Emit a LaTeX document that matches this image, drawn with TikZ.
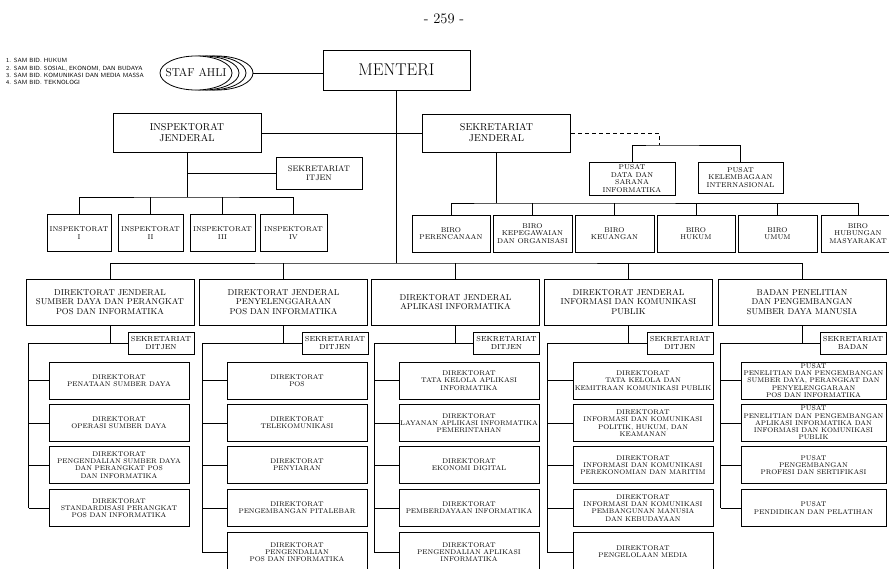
\documentclass[tikz,border=0pt]{standalone}
\usepackage{fontspec}
\usetikzlibrary{shapes.geometric}

\begin{document}
\begin{tikzpicture}[
  x=1pt, y=-1pt,
  box/.style={draw, line width=1pt, fill=white, align=center, inner sep=1pt},
  head/.style={box, font=\fontsize{10}{11}\selectfont, minimum width=148, minimum height=39},
  dj/.style={box, font=\fontsize{8.5}{9.8}\selectfont, minimum width=168, minimum height=46},
  cell/.style={box, font=\fontsize{7}{7.5}\selectfont, minimum height=37},
  sek/.style={box, font=\fontsize{7.3}{8}\selectfont, minimum width=66, minimum height=22},
  unit/.style={box, font=\fontsize{6.8}{7.2}\selectfont, minimum width=140, minimum height=37, inner sep=0.5pt},
  oval/.style={ellipse, draw, line width=0.8pt, fill=white, inner xsep=-8pt, inner ysep=0pt, minimum width=72, minimum height=34},
  wire/.style={line width=0.8pt},
  trunk/.style={line width=1.4pt},
]
  \useasboundingbox (0,0) rectangle (889,568);
  \clip (0,0) rectangle (889,568);

  % ---------------- top: page number, staf ahli, menteri
  \node[font=\fontsize{14.5}{16}\selectfont] (page) at (444,18.7) {- 259 -};
  \node[font=\sffamily\fontsize{6}{7.1}\selectfont, align=left, anchor=west, inner sep=0] (sam) at (6,71.5)
    {1. SAM BID. HUKUM\\2. SAM BID. SOSIAL, EKONOMI, DAN BUDAYA\\3. SAM BID. KOMUNIKASI DAN MEDIA MASSA\\4. SAM BID. TEKNOLOGI};
  \foreach \i/\dx in {3/21, 2/14, 1/7}
    \node[oval] (staf\i) at (196+\dx,73) {};
  \node[oval, font=\fontsize{11.5}{12}\selectfont] (staf) at (196,73) {STAF AHLI};
  \node[box, font=\fontsize{17}{18}\selectfont, minimum width=147, minimum height=40] (menteri) at (396.5,70) {MENTERI};

  % ---------------- inspektorat / sekretariat jenderal
  \node[head] (itjen) at (187,133) {INSPEKTORAT\\JENDERAL};
  \node[head, minimum height=38] (sekjen) at (496.5,133) {SEKRETARIAT\\JENDERAL};
  \node[box, font=\fontsize{8}{9}\selectfont, minimum width=86, minimum height=32] (sekitjen) at (319,173) {SEKRETARIAT\\ITJEN};
  \node[cell, minimum width=64] (insp1) at (79,233) {INSPEKTORAT\\I};
  \node[cell, minimum width=65] (insp2) at (150.5,233) {INSPEKTORAT\\II};
  \node[cell, minimum width=65] (insp3) at (222.5,233) {INSPEKTORAT\\III};
  \node[cell, minimum width=67] (insp4) at (293.5,233) {INSPEKTORAT\\IV};
  \node[cell, minimum width=86, minimum height=33] (pusdatin) at (632,178.5) {PUSAT\\DATA DAN\\SARANA\\INFORMATIKA};
  \node[cell, minimum width=85, minimum height=31] (puskel) at (740.5,177.5) {PUSAT\\KELEMBAGAAN\\INTERNASIONAL};
  \node[cell, minimum width=78] (biro1) at (451,233.5) {BIRO\\PERENCANAAN};
  \node[cell, minimum width=79] (biro2) at (532.5,233.5) {BIRO\\KEPEGAWAIAN\\DAN ORGANISASI};
  \node[cell, minimum width=79] (biro3) at (614.5,233.5) {BIRO\\KEUANGAN};
  \node[cell, minimum width=78] (biro4) at (696,233.5) {BIRO\\HUKUM};
  \node[cell, minimum width=79] (biro5) at (777.5,233.5) {BIRO\\UMUM};
  \node[cell, minimum width=74] (biro6) at (858,233.5) {BIRO\\HUBUNGAN\\MASYARAKAT};

  % ---------------- direktorat jenderal and badan
  \node[dj] (dj1) at (110,302) {DIREKTORAT JENDERAL\\SUMBER DAYA DAN PERANGKAT\\POS DAN INFORMATIKA};
  \node[dj] (dj2) at (283.5,302) {DIREKTORAT JENDERAL\\PENYELENGGARAAN\\POS DAN INFORMATIKA};
  \node[dj] (dj3) at (455.5,302) {DIREKTORAT JENDERAL\\APLIKASI INFORMATIKA};
  \node[dj] (dj4) at (628.5,302) {DIREKTORAT JENDERAL\\INFORMASI DAN KOMUNIKASI\\PUBLIK};
  \node[dj] (dj5) at (802,302) {BADAN PENELITIAN\\DAN PENGEMBANGAN\\SUMBER DAYA MANUSIA};
  \node[sek] (sek1) at (161,343) {SEKRETARIAT\\DITJEN};
  \node[sek] (sek2) at (335,343) {SEKRETARIAT\\DITJEN};
  \node[sek] (sek3) at (506.5,343) {SEKRETARIAT\\DITJEN};
  \node[sek] (sek4) at (680,343) {SEKRETARIAT\\DITJEN};
  \node[sek] (sek5) at (853,343) {SEKRETARIAT\\BADAN};

  \node[unit] (u11) at (119,380.5) {DIREKTORAT\\PENATAAN SUMBER DAYA};
  \node[unit] (u12) at (119,423) {DIREKTORAT\\OPERASI SUMBER DAYA};
  \node[unit] (u13) at (119,465) {DIREKTORAT\\PENGENDALIAN SUMBER DAYA\\DAN PERANGKAT POS\\DAN INFORMATIKA};
  \node[unit] (u14) at (119,508) {DIREKTORAT\\STANDARDISASI PERANGKAT\\POS DAN INFORMATIKA};

  \node[unit] (u21) at (297,380.5) {DIREKTORAT\\POS};
  \node[unit] (u22) at (297,423) {DIREKTORAT\\TELEKOMUNIKASI};
  \node[unit] (u23) at (297,465) {DIREKTORAT\\PENYIARAN};
  \node[unit] (u24) at (297,508) {DIREKTORAT\\PENGEMBANGAN PITALEBAR};
  \node[unit, minimum height=40] (u25) at (297,552) {DIREKTORAT\\PENGENDALIAN\\POS DAN INFORMATIKA};

  \node[unit] (u31) at (469,380.5) {DIREKTORAT\\TATA KELOLA APLIKASI\\INFORMATIKA};
  \node[unit] (u32) at (469,423) {DIREKTORAT\\LAYANAN APLIKASI INFORMATIKA\\PEMERINTAHAN};
  \node[unit] (u33) at (469,465) {DIREKTORAT\\EKONOMI DIGITAL};
  \node[unit] (u34) at (469,508) {DIREKTORAT\\PEMBERDAYAAN INFORMATIKA};
  \node[unit, minimum height=40] (u35) at (469,552) {DIREKTORAT\\PENGENDALIAN APLIKASI\\INFORMATIKA};

  \node[unit] (u41) at (643,380.5) {DIREKTORAT\\TATA KELOLA DAN\\KEMITRAAN KOMUNIKASI PUBLIK};
  \node[unit] (u42) at (643,423) {DIREKTORAT\\INFORMASI DAN KOMUNIKASI\\POLITIK, HUKUM, DAN\\KEAMANAN};
  \node[unit] (u43) at (643,465) {DIREKTORAT\\INFORMASI DAN KOMUNIKASI\\PEREKONOMIAN DAN MARITIM};
  \node[unit] (u44) at (643,508) {DIREKTORAT\\INFORMASI DAN KOMUNIKASI\\PEMBANGUNAN MANUSIA\\DAN KEBUDAYAAN};
  \node[unit, minimum height=40] (u45) at (643,552) {DIREKTORAT\\PENGELOLAAN MEDIA};

  \node[unit, minimum width=145] (u51) at (813.5,380.5) {PUSAT\\PENELITIAN DAN PENGEMBANGAN\\SUMBER DAYA, PERANGKAT DAN\\PENYELENGGARAAN\\POS DAN INFORMATIKA};
  \node[unit, minimum width=145] (u52) at (813.5,423) {PUSAT\\PENELITIAN DAN PENGEMBANGAN\\APLIKASI INFORMATIKA DAN\\INFORMASI DAN KOMUNIKASI\\PUBLIK};
  \node[unit, minimum width=145] (u53) at (813.5,465) {PUSAT\\PENGEMBANGAN\\PROFESI DAN SERTIFIKASI};
  \node[unit, minimum width=145] (u54) at (813.5,508) {PUSAT\\PENDIDIKAN DAN PELATIHAN};

  % ---------------- lines
  \coordinate (ibus) at (187,197);
  \coordinate (bbus) at (496.5,203);
  \coordinate (pbus) at (659,145);
  \coordinate (djbus) at (396.5,263);
  \draw[wire] (staf3.east) -- (staf3.east -| menteri.west);
  \draw[trunk] (menteri) -- (djbus);
  \draw[wire] (itjen.east) -- (sekjen.west);
  \draw[wire] (itjen) -- (ibus);
  \draw[wire] (itjen.south |- sekitjen.west) -- (sekitjen.west);
  \draw[wire] (insp1.north) |- (ibus) -| (insp4.north);
  \foreach \n in {2,3} \draw[wire] (insp\n.north) -- (insp\n.north |- ibus);
  \draw[wire, dash pattern=on 4pt off 3pt] (sekjen.east) -| (pbus);
  \draw[wire] (pusdatin.north) |- (pbus) -| (puskel.north);
  \draw[wire] (sekjen) -- (bbus);
  \draw[wire] (biro1.north) |- (bbus) -| (biro6.north);
  \foreach \n in {2,...,5} \draw[wire] (biro\n.north) -- (biro\n.north |- bbus);
  \draw[wire] (dj1.north) |- (djbus) -| (dj5.north);
  \foreach \n in {2,3,4} \draw[wire] (dj\n.north) -- (dj\n.north |- djbus);
  \foreach \c/\last in {1/4, 2/5, 3/5, 4/5, 5/4} {
    \coordinate (sp\c) at ([xshift=3pt]dj\c.south west);
    \draw[wire] (dj\c) -- (dj\c |- sek\c.west) -- (sek\c.west);
    \draw[wire] (dj\c |- sek\c.west) -- (sp\c |- sek\c.west) -- (sp\c |- u\c\last.west);
    \foreach \r in {1,...,\last} \draw[wire] (sp\c |- u\c\r.west) -- (u\c\r.west);
  }
\end{tikzpicture}
\end{document}
